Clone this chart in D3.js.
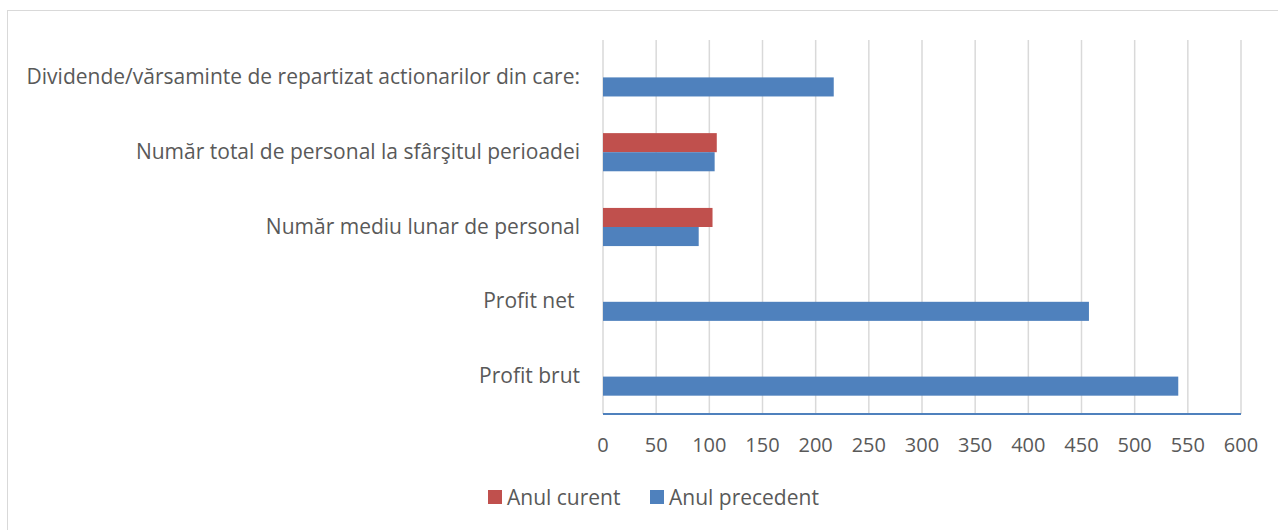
<!DOCTYPE html>
<html>
<head>
<meta charset="utf-8">
<script src="https://cdn.jsdelivr.net/npm/d3@7"></script>
<style>
  html, body { margin: 0; padding: 0; background: #fff; }
  svg { display: block; font-family: "Open Sans", "Noto Sans", sans-serif; }
</style>
</head>
<body>
<div id="chart"></div>
<script>
const categories = [
  "Dividende/vărsaminte de repartizat actionarilor din care:",
  "Număr total de personal la sfârşitul perioadei",
  "Număr mediu lunar de personal",
  "Profit net ",
  "Profit brut"
];
const seriesNames = ["Anul curent", "Anul precedent"];
const anulCurent = [null, 107, 103, null, null];
const anulPrecedent = [217, 105, 90, 457, 541];
const xTicks = [0, 50, 100, 150, 200, 250, 300, 350, 400, 450, 500, 550, 600];
const seriesColors = ["#c0504d", "#4f81bd"];

const width = 1278;
const height = 530;
const margin = { top: 40, right: 37, bottom: 116, left: 603 };
const labelColor = "#595959";

const svg = d3
  .select("#chart")
  .append("svg")
  .attr("width", width)
  .attr("height", height);

// chart frame
svg
  .append("rect")
  .attr("x", 7.5)
  .attr("y", 10.5)
  .attr("width", width + 20)
  .attr("height", height + 20)
  .attr("fill", "none")
  .attr("stroke", "#d9d9d9");

const xScale = d3.scaleLinear().domain([0, 600]).range([margin.left, width - margin.right]);
const yScale = d3
  .scaleBand()
  .domain(categories)
  .range([margin.top, height - margin.bottom])
  .paddingInner(0.49)
  .paddingOuter(0.245);
const seriesScale = d3.scaleBand().domain(seriesNames).range([0, yScale.bandwidth()]);

const plotBottom = height - margin.bottom;

// gridlines
svg
  .append("g")
  .selectAll("line")
  .data(xTicks)
  .enter()
  .append("line")
  .attr("x1", (d) => xScale(d))
  .attr("x2", (d) => xScale(d))
  .attr("y1", margin.top)
  .attr("y2", plotBottom)
  .attr("stroke", "#d9d9d9")
  .attr("stroke-width", 1.5);

const rows = categories.map((name, i) => ({
  name,
  values: [
    { series: seriesNames[0], value: anulCurent[i], color: seriesColors[0] },
    { series: seriesNames[1], value: anulPrecedent[i], color: seriesColors[1] }
  ]
}));

const groups = svg
  .append("g")
  .selectAll("g")
  .data(rows)
  .enter()
  .append("g")
  .attr("transform", (row) => `translate(0, ${yScale(row.name)})`);

groups
  .selectAll("rect")
  .data((row) => row.values.filter((v) => v.value != null))
  .enter()
  .append("rect")
  .attr("x", xScale(0))
  .attr("y", (v) => seriesScale(v.series))
  .attr("width", (v) => xScale(v.value) - xScale(0))
  .attr("height", seriesScale.bandwidth())
  .attr("fill", (v) => v.color);

// bottom axis line
svg
  .append("line")
  .attr("x1", xScale(0))
  .attr("x2", xScale(600))
  .attr("y1", plotBottom)
  .attr("y2", plotBottom)
  .attr("stroke", "#4f81bd")
  .attr("stroke-width", 2);

// x tick labels
svg
  .append("g")
  .selectAll("text")
  .data(xTicks)
  .enter()
  .append("text")
  .attr("x", (d) => xScale(d))
  .attr("y", plotBottom + 33)
  .attr("text-anchor", "middle")
  .attr("dominant-baseline", "middle")
  .attr("fill", labelColor)
  .attr("font-size", 20)
  .text((d) => d);

// category labels
svg
  .append("g")
  .selectAll("text")
  .data(categories)
  .enter()
  .append("text")
  .attr("x", 580)
  .attr("y", (d) => yScale(d) + yScale.bandwidth() / 2 + 1)
  .attr("text-anchor", "end")
  .attr("dominant-baseline", "middle")
  .attr("fill", labelColor)
  .attr("font-size", 21)
  .style("white-space", "pre")
  .text((d) => d);

// legend
const legendItems = [
  { name: seriesNames[0], color: seriesColors[0], x: 488 },
  { name: seriesNames[1], color: seriesColors[1], x: 650 }
];
const legend = svg.append("g").selectAll("g").data(legendItems).enter().append("g");
legend
  .append("rect")
  .attr("x", (d) => d.x)
  .attr("y", 490)
  .attr("width", 14)
  .attr("height", 14)
  .attr("fill", (d) => d.color);
legend
  .append("text")
  .attr("x", (d) => d.x + 19)
  .attr("y", 499)
  .attr("dominant-baseline", "middle")
  .attr("fill", labelColor)
  .attr("font-size", 21)
  .text((d) => d.name);
</script>
</body>
</html>
